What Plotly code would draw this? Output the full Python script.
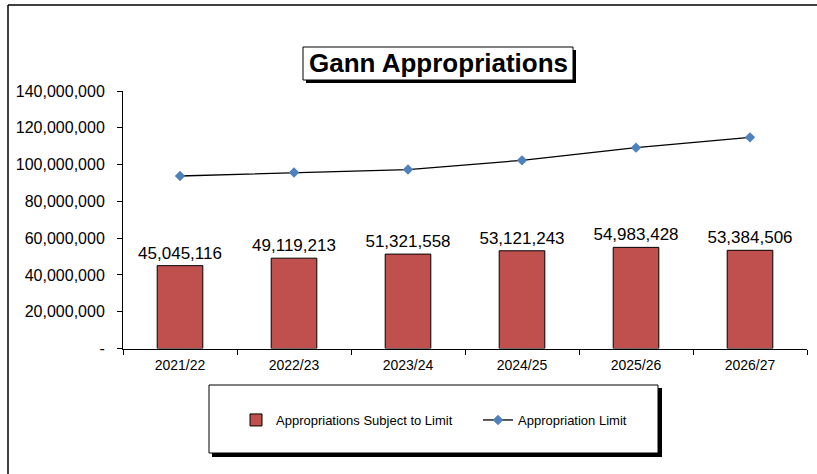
import plotly.graph_objects as go

W, H = 817, 474

categories = ["2021/22", "2022/23", "2023/24", "2024/25", "2025/26", "2026/27"]
appropriations_subject = [45045116, 49119213, 51321558, 53121243, 54983428, 53384506]
appropriation_limit = [93800000, 95700000, 97300000, 102300000, 109200000, 114800000]
y_tick_vals = [0, 20000000, 40000000, 60000000, 80000000, 100000000, 120000000, 140000000]
y_tick_text = ["-", "20,000,000", "40,000,000", "60,000,000", "80,000,000",
               "100,000,000", "120,000,000", "140,000,000"]

FONT = "Liberation Sans, Arial, sans-serif"

def px(x):
    return x / W

def py(y):
    return 1 - y / H

fig = go.Figure()
fig.add_trace(go.Bar(
    x=categories, y=appropriations_subject, name="Appropriations Subject to Limit",
    marker=dict(color="#C0504D", line=dict(color="#000000", width=1)),
    texttemplate="%{y:,.0f}", textposition="outside", cliponaxis=False,
    constraintext="none",
    textfont=dict(family=FONT, size=17, color="#000000"),
))
fig.add_trace(go.Scatter(
    x=categories, y=appropriation_limit, name="Appropriation Limit",
    mode="lines+markers",
    line=dict(color="#000000", width=1.3),
    marker=dict(symbol="diamond", size=8, color="#4F81BD"),
))

shapes = [
    # outer frame (top & left visible)
    dict(type="line", xref="paper", yref="paper", x0=px(8), x1=1.01, y0=py(5), y1=py(5),
         line=dict(color="#000000", width=1.5)),
    dict(type="line", xref="paper", yref="paper", x0=px(8), x1=px(8), y0=py(5), y1=-0.01,
         line=dict(color="#000000", width=1.5)),
    # title box shadow and box
    dict(type="rect", xref="paper", yref="paper", x0=px(306), x1=px(576), y0=py(50), y1=py(83),
         fillcolor="#000000", line=dict(width=0)),
    dict(type="rect", xref="paper", yref="paper", x0=px(303), x1=px(573), y0=py(47), y1=py(80),
         fillcolor="#FFFFFF", line=dict(color="#000000", width=1)),
    # legend box shadow and box
    dict(type="rect", xref="paper", yref="paper", x0=px(212), x1=px(662), y0=py(388), y1=py(457),
         fillcolor="#000000", line=dict(width=0), layer="below"),
    dict(type="rect", xref="paper", yref="paper", x0=px(209), x1=px(658), y0=py(385), y1=py(453),
         fillcolor="#FFFFFF", line=dict(color="#000000", width=1), layer="below"),
]

fig.update_layout(
    width=W, height=H,
    margin=dict(l=0, r=0, t=0, b=0, autoexpand=False),
    paper_bgcolor="#FFFFFF", plot_bgcolor="rgba(0,0,0,0)",
    bargap=0.6,
    showlegend=True,
    legend=dict(
        orientation="h", x=px(236), y=py(420), xanchor="left", yanchor="middle",
        bgcolor="rgba(0,0,0,0)", borderwidth=0,
        font=dict(family=FONT, size=13, color="#000000"),
        itemwidth=30, traceorder="normal", entrywidth=197,
    ),
    shapes=shapes,
    annotations=[dict(
        text="<b>Gann Appropriations</b>", xref="paper", yref="paper",
        x=px(438), y=py(63.5), xanchor="center", yanchor="middle", showarrow=False,
        font=dict(family=FONT, size=26, color="#000000"),
    )],
    xaxis=dict(
        domain=[px(123), px(807)],
        showline=True, linecolor="#000000", linewidth=1,
        ticks="outside", ticklen=5, tickcolor="#000000", tickson="boundaries",
        ticklabelstandoff=4,
        tickfont=dict(family=FONT, size=14, color="#000000"),
        showgrid=False, zeroline=False, fixedrange=True, automargin=False,
    ),
    yaxis=dict(
        domain=[py(348.5), py(91)],
        range=[0, 140000000],
        tickvals=y_tick_vals, ticktext=y_tick_text,
        showline=True, linecolor="#000000", linewidth=1,
        ticks="outside", ticklen=5, tickcolor="#000000",
        ticklabelstandoff=9,
        tickfont=dict(family=FONT, size=16, color="#000000"),
        showgrid=False, zeroline=False, fixedrange=True, automargin=False,
    ),
)

post = (
    "document.body.style.margin='0';"
    "document.body.style.overflow='hidden';"
    "var gd=document.getElementById('{plot_id}');"
    "gd.style.position='absolute';gd.style.left='0px';gd.style.top='0px';"
)

fig.write_html("out.html", post_script=post, config={"displayModeBar": False})
